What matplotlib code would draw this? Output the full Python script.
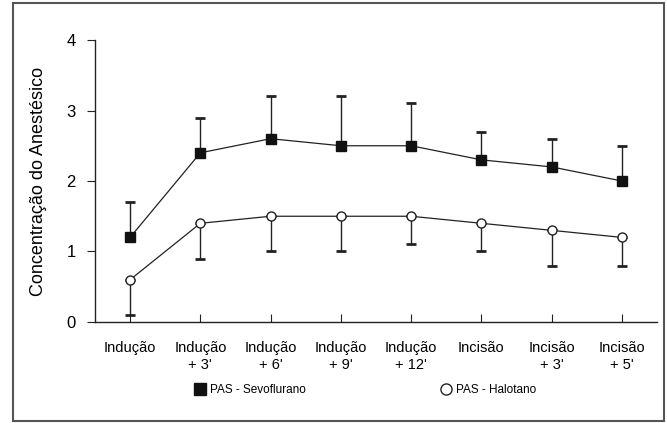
import matplotlib
matplotlib.use('Agg')
from matplotlib import pyplot as plt
from matplotlib.patches import Rectangle

plt.rcParams['font.family'] = ['Liberation Sans', 'DejaVu Sans']

labels = ['Indução', "Indução\n+ 3'", "Indução\n+ 6'", "Indução\n+ 9'", "Indução\n+ 12'",
          'Incisão', "Incisão\n+ 3'", "Incisão\n+ 5'"]
sevo = [1.2, 2.4, 2.6, 2.5, 2.5, 2.3, 2.2, 2.0]
sevo_err = [0.5, 0.5, 0.6, 0.7, 0.6, 0.4, 0.4, 0.5]
halo = [0.6, 1.4, 1.5, 1.5, 1.5, 1.4, 1.3, 1.2]
halo_err = [0.5, 0.5, 0.5, 0.5, 0.4, 0.4, 0.5, 0.4]

x = range(len(labels))
zeros = [0] * len(labels)

fig = plt.figure(figsize=(6.67, 4.23), dpi=100)
ax = fig.add_axes([0.1424, 0.2388, 0.8426, 0.6666])

line_color = '#222222'
ax.errorbar(x, sevo, yerr=[zeros, sevo_err], fmt='none', ecolor=line_color,
            elinewidth=1, capsize=3.5, capthick=2)
ax.errorbar(x, halo, yerr=[halo_err, zeros], fmt='none', ecolor=line_color,
            elinewidth=1, capsize=3.5, capthick=2)
h1, = ax.plot(x, sevo, color=line_color, linewidth=0.9, marker='s', markersize=7.5,
              markerfacecolor='#111111', markeredgecolor='#111111', zorder=3)
h2, = ax.plot(x, halo, color=line_color, linewidth=0.9, marker='o', markersize=6.5,
              markerfacecolor='white', markeredgecolor=line_color, zorder=3)

ax.set_xlim(-0.5, 7.5)
ax.set_ylim(0, 4)
ax.set_yticks([0, 1, 2, 3, 4])
ax.set_xticks(list(x))
ax.set_xticklabels(labels, fontsize=10.5)
ax.tick_params(axis='x', direction='in', length=6, pad=14, color=line_color)
ax.tick_params(axis='y', direction='out', length=6, labelsize=12, pad=8, color=line_color)
for side in ['top', 'right']:
    ax.spines[side].set_visible(False)
for side in ['left', 'bottom']:
    ax.spines[side].set_color(line_color)
    ax.spines[side].set_linewidth(1)
ax.set_ylabel('Concentração do Anestésico', fontsize=13, labelpad=14)

fig.legend([h1, h2], ['PAS - Sevoflurano', 'PAS - Halotano'], loc='center',
           bbox_to_anchor=(0.548, 0.078), ncol=2, frameon=False, fontsize=8.5,
           columnspacing=11.5, handlelength=0.8, handletextpad=0.45)
for h in fig.legends[0].legend_handles:
    h.set_linestyle('none')
    h.set_markersize(8)

fig.patches.append(Rectangle((0.019, 0.004), 0.976, 0.99, transform=fig.transFigure,
                             fill=False, edgecolor='#555555', linewidth=1.5))

fig.savefig('out.png', dpi=100)
